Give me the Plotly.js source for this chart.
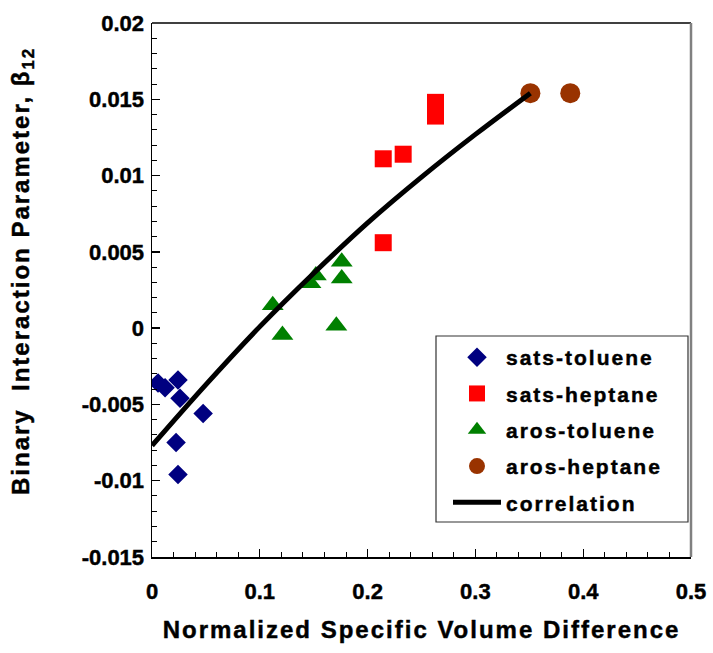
<!DOCTYPE html>
<html>
<head>
<meta charset="utf-8">
<script src="https://cdn.plot.ly/plotly-3.0.1.min.js"></script>
<style>
  html, body { margin: 0; padding: 0; background: #fff; }
  #chart { width: 713px; height: 653px; }
  .legendtext, .annotation-text, .xtitle { letter-spacing: 2px; }
  .legendtext, .annotation-text, .xtitle, .xtick text, .ytick text { stroke: #000; stroke-width: 0.45px; }
</style>
</head>
<body>
<div id="chart"></div>
<script>
// ---- data ----
const satsTolX = [0.0056, 0.0121, 0.0241, 0.0260, 0.0474, 0.0223, 0.0241];
const satsTolY = [-0.0036, -0.0039, -0.0034, -0.0046, -0.0056, -0.0075, -0.0096];

const satsHepX = [0.2145, 0.233, 0.263, 0.263, 0.2145];
const satsHepY = [0.0111, 0.0114, 0.0148, 0.0139, 0.0056];

const arosTolX = [0.112, 0.121, 0.147, 0.152, 0.176, 0.176, 0.171];
const arosTolY = [0.0015, -0.00045, 0.00295, 0.00345, 0.00435, 0.00325, 0.00015];

const arosHepX = [0.351, 0.388];
const arosHepY = [0.0154, 0.0154];

const corrX = [0, 0.05, 0.1, 0.15, 0.2, 0.25, 0.3, 0.351];
const corrY = [-0.0077, -0.0037, 0.0001, 0.0036, 0.0069, 0.0099, 0.0127, 0.0154];

const seriesNames = ['sats-toluene', 'sats-heptane', 'aros-toluene', 'aros-heptane', 'correlation'];

const yTickVals = [-0.015, -0.01, -0.005, 0, 0.005, 0.01, 0.015, 0.02];
const yTickText = ['-0.015', '-0.01', '-0.005', '0', '0.005', '0.01', '0.015', '0.02'];
const xTickVals = [0, 0.1, 0.2, 0.3, 0.4, 0.5];
const xTickText = ['0', '0.1', '0.2', '0.3', '0.4', '0.5'];

const FONT = 'Liberation Sans, Arial, sans-serif';

const traces = [
  { x: satsTolX, y: satsTolY, name: seriesNames[0], mode: 'markers', type: 'scatter',
    marker: { symbol: 'diamond', size: 15, color: '#000080' }, legendgroup: 'a' },
  { x: satsHepX, y: satsHepY, name: seriesNames[1], mode: 'markers', type: 'scatter',
    marker: { symbol: 'square', size: 17, color: '#FF0000' }, legendgroup: 'b' },
  { x: arosTolX, y: arosTolY, name: seriesNames[2], mode: 'markers', type: 'scatter',
    marker: { symbol: 'triangle-up', size: 19, color: '#008000' }, legendgroup: 'c' },
  { x: arosHepX, y: arosHepY, name: seriesNames[3], mode: 'markers', type: 'scatter',
    marker: { symbol: 'circle', size: 20, color: '#993300' }, legendgroup: 'd' },
  { x: corrX, y: corrY, name: seriesNames[4], mode: 'lines', type: 'scatter',
    line: { color: '#000000', width: 5, shape: 'spline' }, legendgroup: 'e' }
];

const W = 713, H = 653, L = 152, R = 22, T = 23, B = 96;
const pw = W - L - R, ph = H - T - B;
const px = v => (v - L) / pw;
const py = v => (H - B - v) / ph;

const layout = {
  width: W, height: H,
  margin: { l: L, r: R, t: T, b: B, pad: 0 },
  paper_bgcolor: '#ffffff', plot_bgcolor: '#ffffff',
  font: { family: FONT, color: '#000', size: 21, weight: 'bold' },
  showlegend: true,
  legend: {
    x: px(448), y: py(337), xanchor: 'left', yanchor: 'top',
    bgcolor: 'rgba(0,0,0,0)', borderwidth: 0,
    font: { family: FONT, size: 21, color: '#000', weight: 'bold' },
    itemwidth: 48, tracegroupgap: 6, traceorder: 'grouped'
  },
  xaxis: {
    range: [0, 0.5], tickmode: 'array', tickvals: xTickVals, ticktext: xTickText,
    ticks: 'inside', ticklen: 8, tickwidth: 1.3, tickcolor: '#000',
    showline: true, linecolor: '#000', linewidth: 1.5, mirror: false,
    showgrid: false, zeroline: false,
    tickfont: { family: FONT, size: 22, color: '#000', weight: 'bold' },
    ticklabelstandoff: 14,
    minor: { tickmode: 'linear', tick0: 0, dtick: 0.02, ticks: 'inside', ticklen: 5, tickwidth: 1, tickcolor: '#000', showgrid: false },
    title: { text: 'Normalized Specific Volume Difference', standoff: 18,
      font: { family: FONT, size: 24, color: '#000', weight: 'bold' } }
  },
  yaxis: {
    range: [-0.015, 0.02], tickmode: 'array', tickvals: yTickVals, ticktext: yTickText,
    ticks: 'inside', ticklen: 8, tickwidth: 1.3, tickcolor: '#000',
    showline: true, linecolor: '#000', linewidth: 1.5, mirror: false,
    showgrid: false, zeroline: false,
    tickfont: { family: FONT, size: 22, color: '#000', weight: 'bold' },
    ticklabelstandoff: 2,
    minor: { tickmode: 'linear', tick0: 0, dtick: 0.001, ticks: 'inside', ticklen: 5, tickwidth: 1, tickcolor: '#000', showgrid: false }
  },
  annotations: [
    { xref: 'paper', yref: 'paper', x: px(22), y: py(271), xanchor: 'center', yanchor: 'middle',
      textangle: -90, showarrow: false,
      text: 'Binary\u00a0 Interaction Parameter, \u03b2<sub>12</sub>',
      font: { family: FONT, size: 24, color: '#000', weight: 'bold' } }
  ],
  shapes: [
    { type: 'rect', xref: 'paper', yref: 'paper', x0: px(436), x1: px(688), y0: py(522), y1: py(336),
      line: { color: '#333333', width: 1.2 }, fillcolor: '#ffffff', layer: 'below' },
    { type: 'line', xref: 'paper', yref: 'paper', x0: 0, x1: 1, y0: 1, y1: 1,
      line: { color: '#000000', width: 1.5 } },
    { type: 'line', xref: 'paper', yref: 'paper', x0: 1, x1: 1, y0: 0, y1: 1,
      line: { color: '#808080', width: 2.5 } }
  ]
};

Plotly.newPlot('chart', traces, layout, { displayModeBar: false, staticPlot: true });
</script>
</body>
</html>
